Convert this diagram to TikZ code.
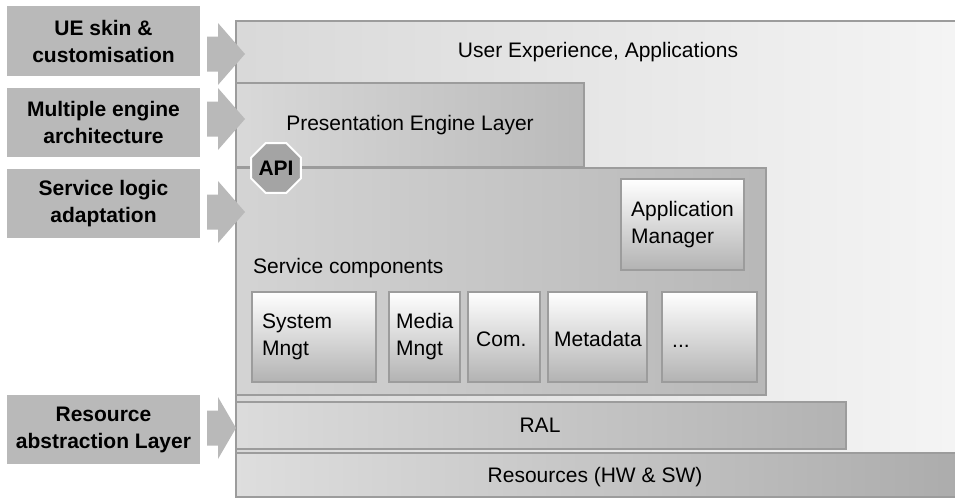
\documentclass[tikz,border=0pt]{standalone}
\usepackage{fontspec}
\setmainfont{Liberation Sans}
\usetikzlibrary{shapes.geometric}
\definecolor{bordergray}{HTML}{9C9C9C}
\definecolor{sidegray}{HTML}{B9B9B9}
\definecolor{apigray}{HTML}{A4A4A4}
\begin{document}
\begin{tikzpicture}[x=1pt,y=-1pt,
  txt/.style={font=\fontsize{21}{27}\selectfont, text=black, inner sep=0pt, align=left},
  sidebox/.style={fill=sidegray, draw=none, outer sep=0pt, anchor=north west, minimum width=193pt,
    font=\fontsize{21}{27}\selectfont\bfseries, align=center, inner sep=0pt},
  layer/.style={draw=bordergray, line width=2.5pt, outer sep=0pt, inner sep=0pt, anchor=north west},
  comp/.style={layer, top color=white, bottom color=black!30},
]
\useasboundingbox (0,0) rectangle (955,501);

% main layers
\node[layer, minimum width=740pt, minimum height=476pt, shading angle=225,
      left color=black!15, right color=black!4] (ux) at (236,21) {};
\node[layer, minimum width=348pt, minimum height=84pt,
      left color=black!15, right color=black!27] (pres) at (236,83) {};
\node[layer, minimum width=530pt, minimum height=227pt,
      left color=black!17, right color=black!28] (serv) at (236,168) {};
\node[layer, minimum width=610pt, minimum height=47pt,
      left color=black!14, right color=black!30] (ral) at (236,402) {};
\node[layer, minimum width=740pt, minimum height=44pt,
      left color=black!13, right color=black!33] (res) at (236,453) {};

% labels of layers
\node[txt] (uxt) at (598,52) {User Experience, Applications};
\node[txt] (prest) at (410,125) {Presentation Engine Layer};
\node[txt, anchor=west] (servt) at (253,268) {Service components};
\node[txt] (ralt) at (540,425) {RAL};
\node[txt] (rest) at (595,477) {Resources (HW \& SW)};

% components
\node[comp, minimum width=123pt, minimum height=91pt] (app) at (621,179) {};
\node[txt, anchor=west] at ([xshift=10pt]app.west) {Application\\Manager};
\node[comp, minimum width=124pt, minimum height=90pt] (sys) at (252,292) {};
\node[txt, anchor=west] at ([xshift=10pt]sys.west) {System\\Mngt};
\node[comp, minimum width=71pt, minimum height=90pt] (media) at (389,292) {};
\node[txt, anchor=west] at ([xshift=7pt]media.west) {Media\\Mngt};
\node[comp, minimum width=72pt, minimum height=90pt] (com) at (468,292) {};
\node[txt, anchor=west] at ([xshift=8pt,yshift=-2pt]com.west) {Com.};
\node[comp, minimum width=99pt, minimum height=90pt] (meta) at (548,292) {};
\node[txt, anchor=west] at ([xshift=6pt,yshift=-2pt]meta.west) {Metadata};
\node[comp, minimum width=95pt, minimum height=90pt] (dots) at (662,292) {};
\node[txt, anchor=base west] at ([xshift=10pt,yshift=-10pt]dots.west) {...};

% API octagon
\node[regular polygon, regular polygon sides=8, minimum size=54pt, inner sep=0pt,
      fill=apigray, draw=white, line width=2pt,
      font=\fontsize{21}{27}\selectfont\bfseries] (api) at (276,168) {API};

% side boxes
\node[sidebox, minimum height=70pt] (s1) at (7,6) {UE skin \&\\customisation};
\node[sidebox, minimum height=69pt] (s2) at (7,88) {Multiple engine\\architecture};
\node[sidebox, minimum height=69pt] (s3) at (7,169) {Service logic\\adaptation};
\node[sidebox, minimum height=69pt] (s4) at (7,395) {Resource\\abstraction Layer};

% block arrows
\foreach \cy/\tx in {54/245, 119/245, 212/245, 428/236}{
  \fill[sidegray] (207,\cy-17.5) -- (218,\cy-17.5) -- (218,\cy-31) -- (\tx,\cy)
     -- (218,\cy+31) -- (218,\cy+17.5) -- (207,\cy+17.5) -- cycle;
}
\end{tikzpicture}
\end{document}
